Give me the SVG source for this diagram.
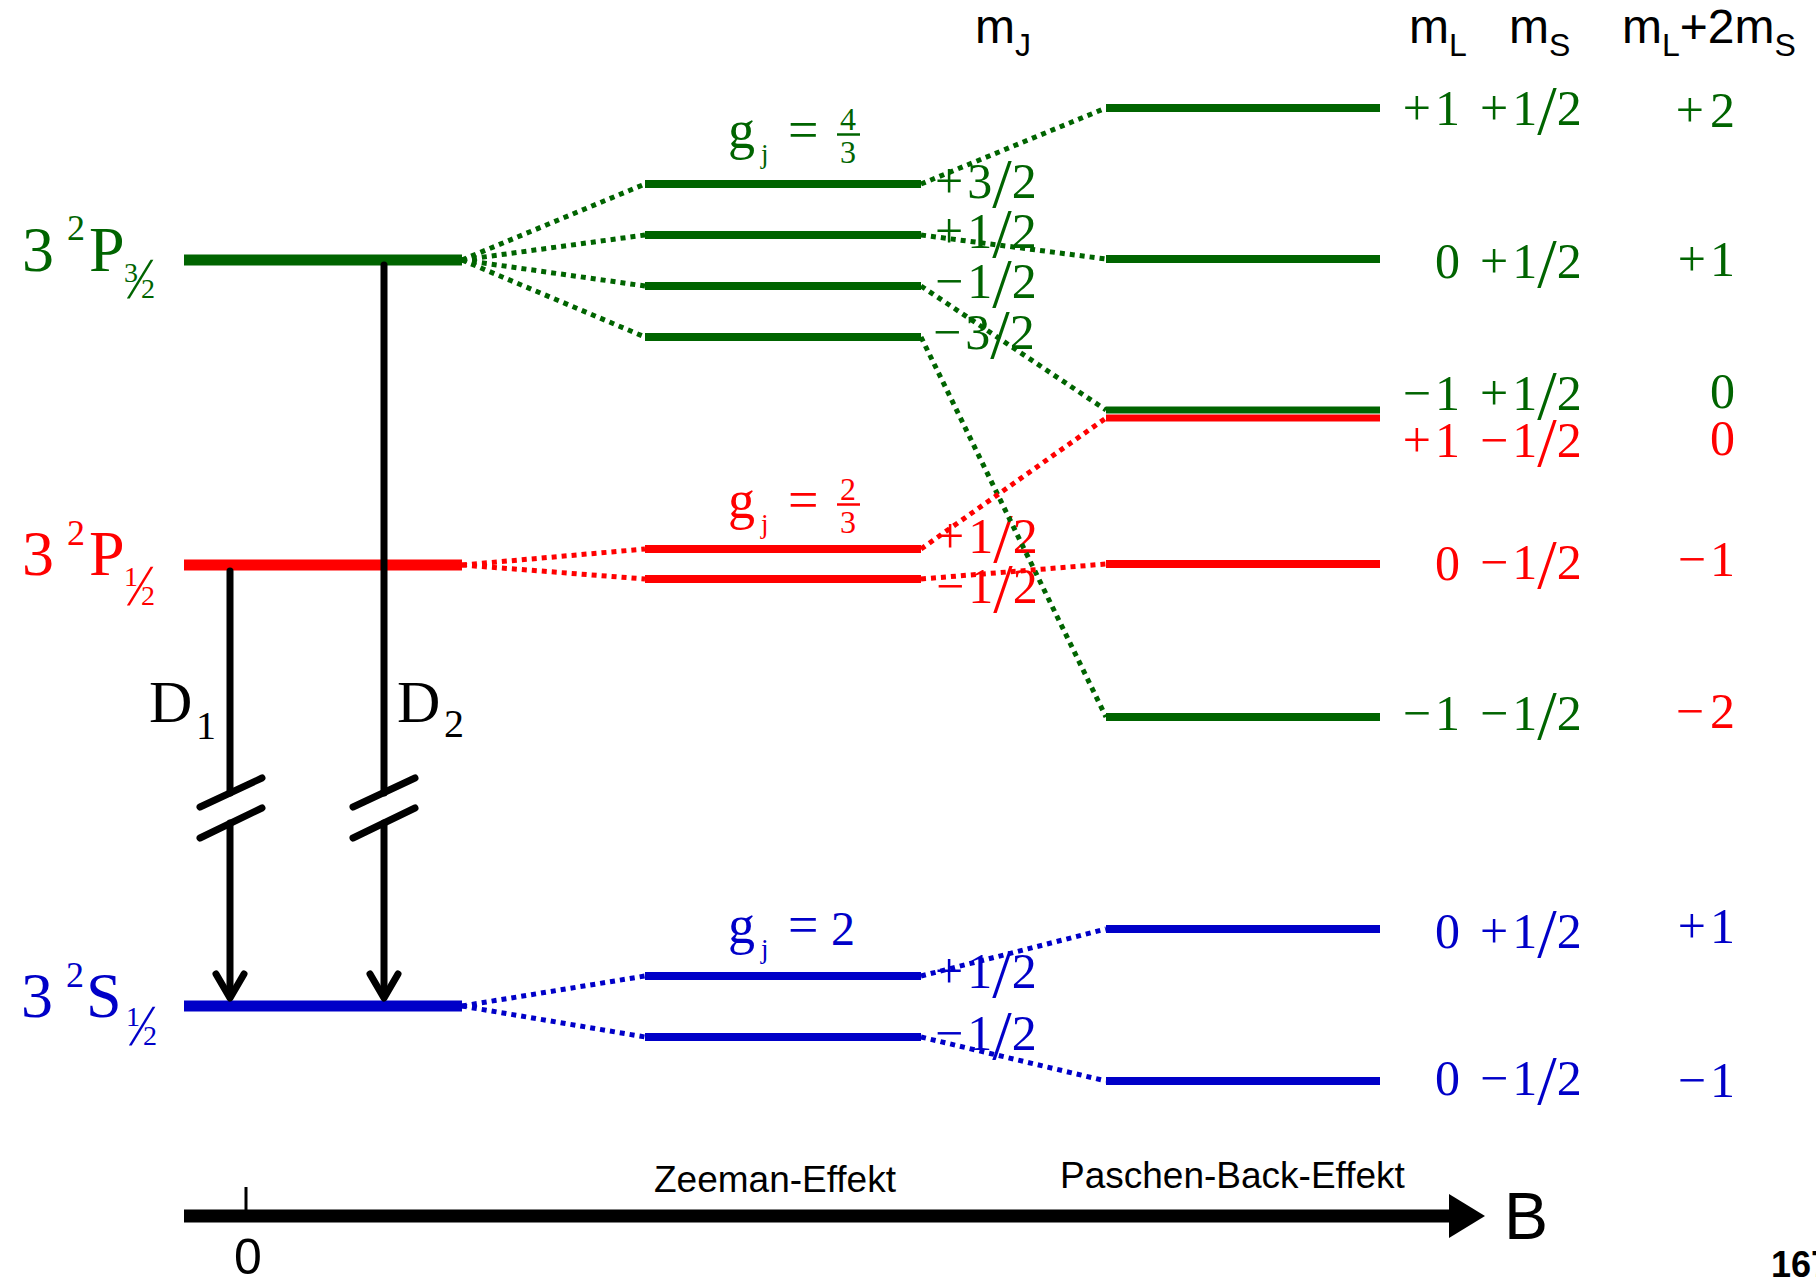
<svg xmlns="http://www.w3.org/2000/svg" width="1816" height="1278" viewBox="0 0 1816 1278">
<style>
.tm{font-family:"Liberation Serif","Times New Roman",serif}
.sa{font-family:"Liberation Sans",Arial,sans-serif}
.gr{fill:#006400}.rd{fill:#ff0000}.bl{fill:#0000c8}.bk{fill:#000}
.lg{stroke:#006400}.lr{stroke:#ff0000}.lb{stroke:#0000c8}
.main{stroke-width:11;fill:none}
.sub{stroke-width:8;fill:none}
.dot{stroke-width:5;stroke-dasharray:5 5;fill:none}
.v{font-size:50px}
.sl{font-size:70px}
.fs{font-size:58px}
.arr{stroke:#000;stroke-width:7;fill:none;stroke-linecap:round;stroke-linejoin:round}
</style>
<rect width="1816" height="1278" fill="#fff"/>

<!-- main levels -->
<g id="level-P32">
  <line class="main lg" x1="184" y1="260" x2="462" y2="260"/>
  <text class="tm gr" x="22" y="271" font-size="64">3</text>
  <text class="tm gr" x="67" y="240" font-size="36">2</text>
  <text class="tm gr" x="89" y="271" font-size="64">P</text>
  <text class="tm gr" x="124" y="282" font-size="28">3</text>
  <text class="tm gr fs" transform="translate(127,298) skewX(-15)">/</text>
  <text class="tm gr" x="141" y="298" font-size="28">2</text>
</g>
<g id="level-P12">
  <line class="main lr" x1="184" y1="565" x2="462" y2="565"/>
  <text class="tm rd" x="22" y="575" font-size="64">3</text>
  <text class="tm rd" x="67" y="545" font-size="36">2</text>
  <text class="tm rd" x="89" y="575" font-size="64">P</text>
  <text class="tm rd" x="124" y="586" font-size="28">1</text>
  <text class="tm rd fs" transform="translate(127,605) skewX(-15)">/</text>
  <text class="tm rd" x="141" y="605" font-size="28">2</text>
</g>
<g id="level-S12">
  <line class="main lb" x1="184" y1="1006" x2="462" y2="1006"/>
  <text class="tm bl" x="21" y="1017" font-size="64">3</text>
  <text class="tm bl" x="66" y="987" font-size="36">2</text>
  <text class="tm bl" x="86" y="1017" font-size="64">S</text>
  <text class="tm bl" x="126" y="1026" font-size="28">1</text>
  <text class="tm bl fs" transform="translate(129,1045) skewX(-15)">/</text>
  <text class="tm bl" x="143" y="1045" font-size="28">2</text>
</g>

<!-- Zeeman sublevels -->
<g id="gj-P32">
  <text class="tm gr" x="728" y="148" font-size="54">g</text>
  <text class="tm gr" x="761" y="163" font-size="27">j</text>
  <text class="tm gr" x="788" y="148" font-size="54">=</text>
  <text class="tm gr" x="848" y="130" font-size="32" text-anchor="middle">4</text>
  <line x1="837" y1="134.5" x2="860" y2="134.5" stroke="#006400" stroke-width="2.5"/>
  <text class="tm gr" x="848" y="163" font-size="32" text-anchor="middle">3</text>
</g>
<g id="zeeman-P32-p32">
  <line class="sub lg" x1="645" y1="184" x2="921" y2="184"/>
  <text class="tm gr v" x="935" y="198">+<tspan dx="4">3</tspan><tspan class="sl" dy="9">/</tspan><tspan dy="-9">2</tspan></text>
</g>
<g id="zeeman-P32-p12">
  <line class="sub lg" x1="645" y1="235" x2="921" y2="235"/>
  <text class="tm gr v" x="935" y="248">+<tspan dx="4">1</tspan><tspan class="sl" dy="9">/</tspan><tspan dy="-9">2</tspan></text>
</g>
<g id="zeeman-P32-m12">
  <line class="sub lg" x1="645" y1="286" x2="921" y2="286"/>
  <text class="tm gr v" x="935" y="298">−<tspan dx="4">1</tspan><tspan class="sl" dy="9">/</tspan><tspan dy="-9">2</tspan></text>
</g>
<g id="zeeman-P32-m32">
  <line class="sub lg" x1="645" y1="337" x2="921" y2="337"/>
  <text class="tm gr v" x="933" y="349">−<tspan dx="4">3</tspan><tspan class="sl" dy="9">/</tspan><tspan dy="-9">2</tspan></text>
</g>

<g id="gj-P12">
  <text class="tm rd" x="728" y="518" font-size="54">g</text>
  <text class="tm rd" x="761" y="533" font-size="27">j</text>
  <text class="tm rd" x="788" y="518" font-size="54">=</text>
  <text class="tm rd" x="848" y="500" font-size="32" text-anchor="middle">2</text>
  <line x1="837" y1="504.5" x2="860" y2="504.5" stroke="#ff0000" stroke-width="2.5"/>
  <text class="tm rd" x="848" y="533" font-size="32" text-anchor="middle">3</text>
</g>
<g id="zeeman-P12-p12">
  <line class="sub lr" x1="645" y1="549" x2="921" y2="549"/>
  <text class="tm rd v" x="936" y="553">+<tspan dx="4">1</tspan><tspan class="sl" dy="9">/</tspan><tspan dy="-9">2</tspan></text>
</g>
<g id="zeeman-P12-m12">
  <line class="sub lr" x1="645" y1="579" x2="921" y2="579"/>
  <text class="tm rd v" x="936" y="603">−<tspan dx="4">1</tspan><tspan class="sl" dy="9">/</tspan><tspan dy="-9">2</tspan></text>
</g>

<g id="gj-S12">
  <text class="tm bl" x="728" y="943" font-size="54">g</text>
  <text class="tm bl" x="761" y="958" font-size="27">j</text>
  <text class="tm bl" x="788" y="943" font-size="54">=</text>
  <text class="tm bl" x="831" y="945" font-size="48">2</text>
</g>
<g id="zeeman-S12-p12">
  <line class="sub lb" x1="645" y1="976" x2="921" y2="976"/>
  <text class="tm bl v" x="935" y="988">+<tspan dx="4">1</tspan><tspan class="sl" dy="9">/</tspan><tspan dy="-9">2</tspan></text>
</g>
<g id="zeeman-S12-m12">
  <line class="sub lb" x1="645" y1="1037" x2="921" y2="1037"/>
  <text class="tm bl v" x="935" y="1050">−<tspan dx="4">1</tspan><tspan class="sl" dy="9">/</tspan><tspan dy="-9">2</tspan></text>
</g>

<!-- headers -->
<g id="headers" class="sa bk">
  <text x="975" y="43" font-size="48">m<tspan font-size="32" dy="13">J</tspan></text>
  <text x="1409" y="43" font-size="48">m<tspan font-size="32" dy="13">L</tspan></text>
  <text x="1509" y="43" font-size="48">m<tspan font-size="32" dy="13">S</tspan></text>
  <text x="1622" y="43" font-size="48">m<tspan font-size="32" dy="13">L</tspan><tspan dy="-13">+2m</tspan><tspan font-size="32" dy="13">S</tspan></text>
</g>

<!-- Paschen-Back levels -->
<g id="pb-1">
  <line class="sub lg" x1="1106" y1="108" x2="1380" y2="108"/>
  <text class="tm gr v" x="1460" y="125" text-anchor="end">+<tspan dx="4">1</tspan></text>
  <text class="tm gr v" x="1480" y="125">+<tspan dx="4">1</tspan><tspan class="sl" dy="9">/</tspan><tspan dy="-9">2</tspan></text>
  <text class="tm gr v" x="1735" y="127" text-anchor="end">+<tspan dx="6">2</tspan></text>
</g>
<g id="pb-2">
  <line class="sub lg" x1="1106" y1="259" x2="1380" y2="259"/>
  <text class="tm gr v" x="1460" y="278" text-anchor="end">0</text>
  <text class="tm gr v" x="1480" y="278">+<tspan dx="4">1</tspan><tspan class="sl" dy="9">/</tspan><tspan dy="-9">2</tspan></text>
  <text class="tm gr v" x="1735" y="276" text-anchor="end">+<tspan dx="4">1</tspan></text>
</g>
<g id="pb-3">
  <line x1="1106" y1="410" x2="1380" y2="410" stroke="#006400" stroke-width="7"/>
  <text class="tm gr v" x="1460" y="410" text-anchor="end">−<tspan dx="4">1</tspan></text>
  <text class="tm gr v" x="1480" y="410">+<tspan dx="4">1</tspan><tspan class="sl" dy="9">/</tspan><tspan dy="-9">2</tspan></text>
  <text class="tm gr v" x="1735" y="408" text-anchor="end">0</text>
</g>
<g id="pb-4">
  <line x1="1106" y1="418" x2="1380" y2="418" stroke="#ff0000" stroke-width="7"/>
  <text class="tm rd v" x="1460" y="457" text-anchor="end">+<tspan dx="4">1</tspan></text>
  <text class="tm rd v" x="1480" y="457">−<tspan dx="4">1</tspan><tspan class="sl" dy="9">/</tspan><tspan dy="-9">2</tspan></text>
  <text class="tm rd v" x="1735" y="455" text-anchor="end">0</text>
</g>
<g id="pb-5">
  <line class="sub lr" x1="1106" y1="564" x2="1380" y2="564"/>
  <text class="tm rd v" x="1460" y="580" text-anchor="end">0</text>
  <text class="tm rd v" x="1480" y="579">−<tspan dx="4">1</tspan><tspan class="sl" dy="9">/</tspan><tspan dy="-9">2</tspan></text>
  <text class="tm rd v" x="1735" y="576" text-anchor="end">−<tspan dx="4">1</tspan></text>
</g>
<g id="pb-6">
  <line class="sub lg" x1="1106" y1="717" x2="1380" y2="717"/>
  <text class="tm gr v" x="1460" y="730" text-anchor="end">−<tspan dx="4">1</tspan></text>
  <text class="tm gr v" x="1480" y="730">−<tspan dx="4">1</tspan><tspan class="sl" dy="9">/</tspan><tspan dy="-9">2</tspan></text>
  <text class="tm rd v" x="1735" y="728" text-anchor="end">−<tspan dx="6">2</tspan></text>
</g>
<g id="pb-7">
  <line class="sub lb" x1="1106" y1="929" x2="1380" y2="929"/>
  <text class="tm bl v" x="1460" y="948" text-anchor="end">0</text>
  <text class="tm bl v" x="1480" y="948">+<tspan dx="4">1</tspan><tspan class="sl" dy="9">/</tspan><tspan dy="-9">2</tspan></text>
  <text class="tm bl v" x="1735" y="943" text-anchor="end">+<tspan dx="4">1</tspan></text>
</g>
<g id="pb-8">
  <line class="sub lb" x1="1106" y1="1081" x2="1380" y2="1081"/>
  <text class="tm bl v" x="1460" y="1095" text-anchor="end">0</text>
  <text class="tm bl v" x="1480" y="1095">−<tspan dx="4">1</tspan><tspan class="sl" dy="9">/</tspan><tspan dy="-9">2</tspan></text>
  <text class="tm bl v" x="1735" y="1097" text-anchor="end">−<tspan dx="4">1</tspan></text>
</g>

<!-- connectors -->
<g id="connectors">
  <line class="dot lg" x1="462" y1="260" x2="645" y2="184"/>
  <line class="dot lg" x1="462" y1="260" x2="645" y2="235"/>
  <line class="dot lg" x1="462" y1="260" x2="645" y2="286"/>
  <line class="dot lg" x1="462" y1="260" x2="645" y2="337"/>
  <line class="dot lr" x1="462" y1="565" x2="645" y2="549"/>
  <line class="dot lr" x1="462" y1="565" x2="645" y2="579"/>
  <line class="dot lb" x1="462" y1="1006" x2="645" y2="976"/>
  <line class="dot lb" x1="462" y1="1006" x2="645" y2="1037"/>
  <line class="dot lg" x1="921" y1="184" x2="1106" y2="108"/>
  <line class="dot lg" x1="921" y1="235" x2="1106" y2="259"/>
  <line class="dot lg" x1="921" y1="286" x2="1106" y2="410"/>
  <line class="dot lg" x1="921" y1="337" x2="1106" y2="717"/>
  <line class="dot lr" x1="921" y1="549" x2="1106" y2="418"/>
  <line class="dot lr" x1="921" y1="579" x2="1106" y2="564"/>
  <line class="dot lb" x1="921" y1="976" x2="1106" y2="929"/>
  <line class="dot lb" x1="921" y1="1037" x2="1106" y2="1081"/>
  <g id="D1">
    <line class="arr" x1="230" y1="571" x2="230" y2="793" stroke-linecap="butt"/>
    <line class="arr" x1="230" y1="823" x2="230" y2="996" stroke-linecap="butt"/>
    <polyline class="arr" points="216,974 230,998 244,974"/>
    <line class="arr" x1="200" y1="807" x2="262" y2="778" stroke-linecap="butt"/>
    <line class="arr" x1="200" y1="838" x2="262" y2="808" stroke-linecap="butt"/>
    <text class="tm bk" x="149" y="722" font-size="60">D</text>
    <text class="tm bk" x="196" y="739" font-size="40">1</text>
  </g>
  <g id="D2">
    <line class="arr" x1="384" y1="265" x2="384" y2="793" stroke-linecap="butt"/>
    <line class="arr" x1="384" y1="823" x2="384" y2="996" stroke-linecap="butt"/>
    <polyline class="arr" points="370,974 384,998 398,974"/>
    <line class="arr" x1="353" y1="807" x2="415" y2="778" stroke-linecap="butt"/>
    <line class="arr" x1="353" y1="838" x2="415" y2="808" stroke-linecap="butt"/>
    <text class="tm bk" x="397" y="722" font-size="60">D</text>
    <text class="tm bk" x="444" y="737" font-size="40">2</text>
  </g>
</g>

<!-- axis -->
<g id="axis">
  <line x1="184" y1="1216" x2="1452" y2="1216" stroke="#000" stroke-width="13"/>
  <polygon points="1449,1194 1485,1216 1449,1238" fill="#000"/>
  <line x1="246" y1="1187" x2="246" y2="1216" stroke="#000" stroke-width="3"/>
  <text class="sa bk" x="248" y="1274" font-size="50" text-anchor="middle">0</text>
  <text class="sa bk" x="1504" y="1239" font-size="66">B</text>
  <text class="sa bk" x="654" y="1192" font-size="37">Zeeman-Effekt</text>
  <text class="sa bk" x="1060" y="1188" font-size="37">Paschen-Back-Effekt</text>
</g>
<text class="sa bk" x="1771" y="1277" font-size="36" font-weight="bold">167</text>
</svg>
